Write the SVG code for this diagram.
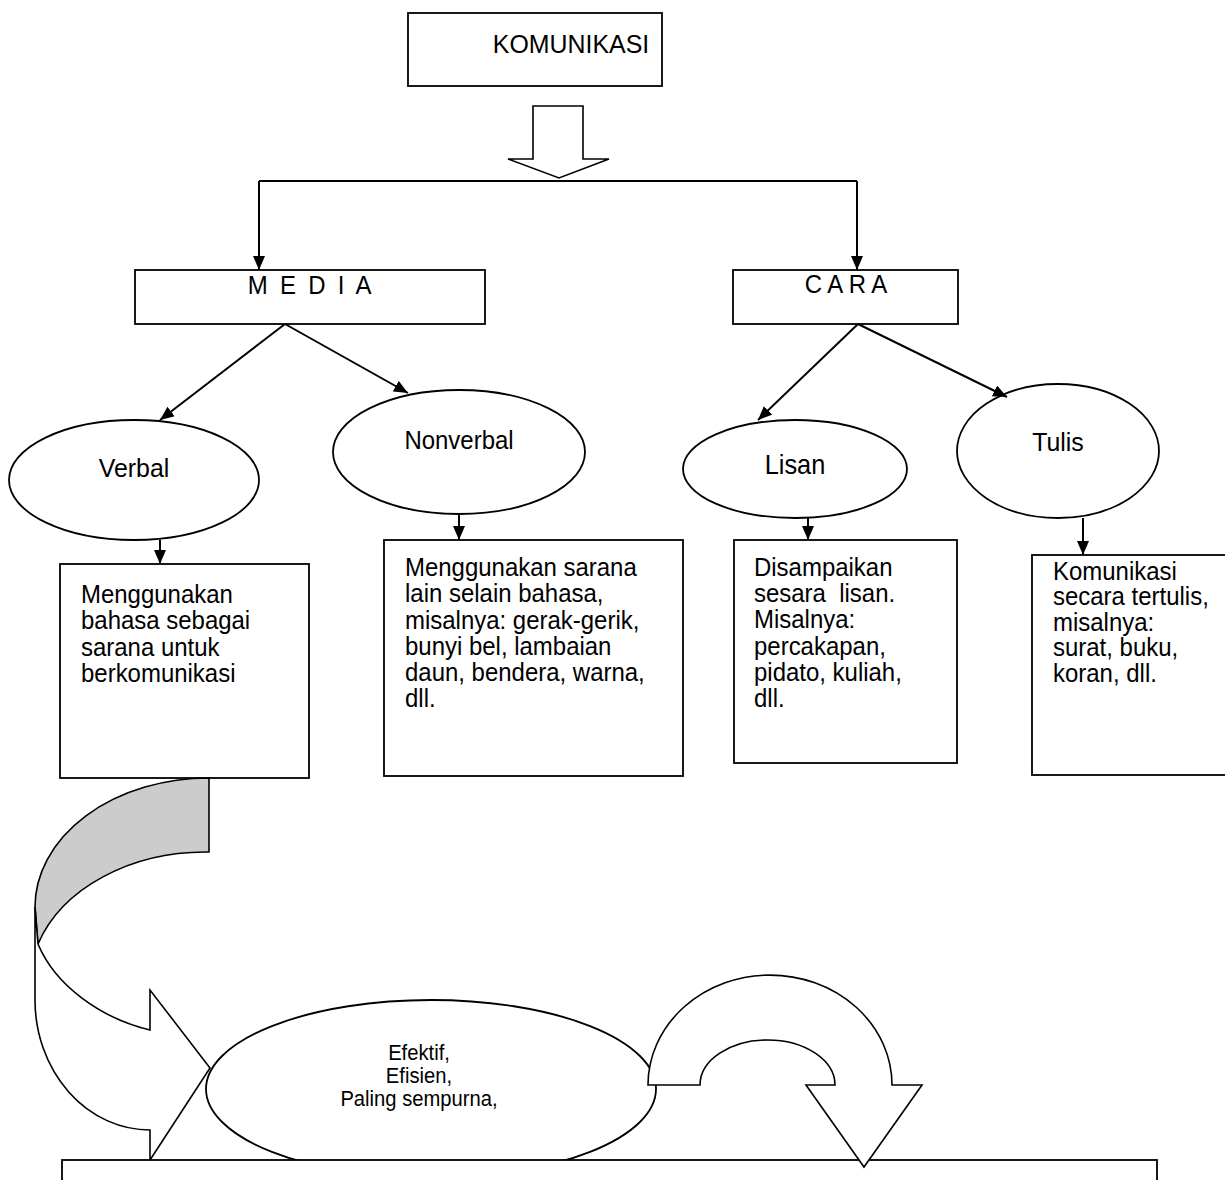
<svg xmlns="http://www.w3.org/2000/svg" width="1225" height="1180" viewBox="0 0 1225 1180">
<defs>
<style>
.box{fill:#fff;stroke:#000;stroke-width:1.8}
.ln{fill:none;stroke:#000;stroke-width:2}
.blk{fill:#fff;stroke:#000;stroke-width:1.6;stroke-linejoin:miter}
text{font-family:"Liberation Sans",Arial,sans-serif;fill:#000}
.lbl{font-size:26.5px;text-anchor:middle}
.body{font-size:25.5px;white-space:pre}
.eff{font-size:21.5px;text-anchor:middle}
</style>
<marker id="ah" markerUnits="userSpaceOnUse" markerWidth="14" markerHeight="12" refX="14" refY="6" orient="auto">
<path d="M0,0 L14,6 L0,12 z" fill="#000"/>
</marker>
</defs>
<rect width="1225" height="1180" fill="#fff"/>

<g id="komunikasi">
<rect class="box" x="408" y="13" width="254" height="73"/>
<text class="lbl" transform="translate(571,53) scale(0.94,1)">KOMUNIKASI</text>
</g>

<g id="media">
<rect class="box" x="135" y="270" width="350" height="54"/>
<text class="lbl" transform="translate(311,294) scale(0.94,1)" style="font-size:25.5px;letter-spacing:3px">M E D I A</text>
</g>

<g id="cara">
<rect class="box" x="733" y="270" width="225" height="54"/>
<text class="lbl" transform="translate(846,293) scale(0.94,1)" style="font-size:25.5px">C A R A</text>
</g>

<g id="verbal">
<ellipse class="box" cx="134" cy="480" rx="125" ry="60"/>
<text class="lbl" transform="translate(134,477) scale(0.94,1)">Verbal</text>
</g>

<g id="nonverbal">
<ellipse class="box" cx="459" cy="452" rx="126" ry="62"/>
<text class="lbl" transform="translate(459,449) scale(0.94,1)" style="font-size:25.5px">Nonverbal</text>
</g>

<g id="lisan">
<ellipse class="box" cx="795" cy="469" rx="112" ry="49"/>
<text class="lbl" transform="translate(795,474) scale(0.94,1)" style="font-size:27px">Lisan</text>
</g>

<g id="tulis">
<ellipse class="box" cx="1058" cy="451" rx="101" ry="67"/>
<text class="lbl" transform="translate(1058,451) scale(0.94,1)">Tulis</text>
</g>

<g id="verbal-desc">
<rect class="box" x="60" y="564" width="249" height="214"/>
<text class="body" transform="translate(81,0) scale(0.94,1)"><tspan x="0" y="603">Menggunakan</tspan><tspan x="0" y="629">bahasa sebagai</tspan><tspan x="0" y="656">sarana untuk</tspan><tspan x="0" y="682">berkomunikasi</tspan></text>
</g>

<g id="nonverbal-desc">
<rect class="box" x="384" y="540" width="299" height="236"/>
<text class="body" transform="translate(405,0) scale(0.94,1)"><tspan x="0" y="576">Menggunakan sarana</tspan><tspan x="0" y="602">lain selain bahasa,</tspan><tspan x="0" y="629">misalnya: gerak-gerik,</tspan><tspan x="0" y="655">bunyi bel, lambaian</tspan><tspan x="0" y="681">daun, bendera, warna,</tspan><tspan x="0" y="707">dll.</tspan></text>
</g>

<g id="lisan-desc">
<rect class="box" x="734" y="540" width="223" height="223"/>
<text class="body" transform="translate(754,0) scale(0.94,1)"><tspan x="0" y="576">Disampaikan</tspan><tspan x="0" y="602">sesara  lisan.</tspan><tspan x="0" y="628">Misalnya:</tspan><tspan x="0" y="655">percakapan,</tspan><tspan x="0" y="681">pidato, kuliah,</tspan><tspan x="0" y="707">dll.</tspan></text>
</g>

<g id="tulis-desc">
<rect class="box" x="1032" y="555" width="200" height="220"/>
<text class="body" transform="translate(1053,0) scale(0.94,1)"><tspan x="0" y="580">Komunikasi</tspan><tspan x="0" y="605.5">secara tertulis,</tspan><tspan x="0" y="631">misalnya:</tspan><tspan x="0" y="656.5">surat, buku,</tspan><tspan x="0" y="682">koran, dll.</tspan></text>
</g>

<g id="connectors">
<polygon class="blk" points="533,106 583,106 583,159 609,159 559,178 508,159 533,159"/>
<path class="ln" d="M259,181 H857"/>
<path class="ln" d="M259,181 V270" marker-end="url(#ah)"/>
<path class="ln" d="M857,181 V270" marker-end="url(#ah)"/>
<path class="ln" d="M285,324 L160,420" marker-end="url(#ah)"/>
<path class="ln" d="M285,324 L408,393" marker-end="url(#ah)"/>
<path class="ln" d="M858,324 L758,420" marker-end="url(#ah)"/>
<path class="ln" d="M858,324 L1007,397" marker-end="url(#ah)"/>
<path class="ln" d="M160,540 V564" marker-end="url(#ah)"/>
<path class="ln" d="M459,514 V540" marker-end="url(#ah)"/>
<path class="ln" d="M808,518 V540" marker-end="url(#ah)"/>
<path class="ln" d="M1083,518 V555" marker-end="url(#ah)"/>
<path d="M209,778 A174,129 0 0 0 35,907 L38,944 A176,133 0 0 1 209,852 Z" fill="#cccccc" stroke="#000" stroke-width="1.6"/>
<path class="blk" d="M35,907 L35,1000 A115,130 0 0 0 150,1130 L150,1160 L210,1068 L150,990 L150,1030 C100,1018 55,985 38,944 Z"/>
</g>

<g id="hasil">
<ellipse class="box" cx="431" cy="1089" rx="225" ry="89"/>
<text class="eff" transform="translate(419,0) scale(0.94,1)"><tspan x="0" y="1060">Efektif,</tspan><tspan x="0" y="1083">Efisien,</tspan><tspan x="0" y="1106">Paling sempurna,</tspan></text>
</g>

<g id="bottom-box">
<rect class="box" x="62" y="1160" width="1095" height="35"/>
</g>

<g id="u-arrow">
<path class="blk" d="M648,1085 A122,110 0 0 1 892,1085 L922,1085 L864,1167 L806,1085 L835,1085 A67.5,45 0 0 0 700,1085 Z"/>
</g>
</svg>
